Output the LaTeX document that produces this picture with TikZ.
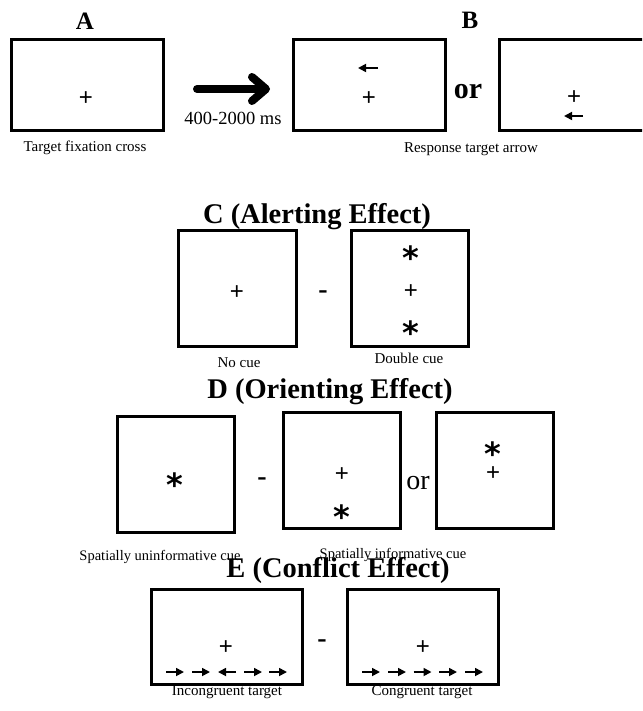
\documentclass[tikz,border=0pt]{standalone}
\usepackage{fontspec}
\setmainfont{Liberation Serif}
\newfontfamily\symfont{Liberation Sans}
\newfontfamily\starfont{DejaVu Sans}
\usetikzlibrary{arrows.meta}

\newcommand{\cuemark}{\raisebox{-16pt}[6pt][6pt]{*}}

\tikzset{
  screen/.style={draw, line width=3pt, inner sep=0pt},
  widescreen/.style={screen, minimum width=152pt, minimum height=91pt},
  flatscreen/.style={screen, minimum width=151pt, minimum height=95pt},
  squarescreen/.style={screen, minimum width=117pt, minimum height=116pt},
  fixcross/.style={font=\symfont\fontsize{24}{24}\selectfont, inner sep=0pt},
  cuestar/.style={font=\starfont\bfseries\fontsize{32}{32}\selectfont, inner sep=0pt},
  panel/.style={font=\bfseries\fontsize{28.5}{30}\selectfont, inner sep=0pt},
  letter/.style={font=\bfseries\fontsize{25}{26}\selectfont, inner sep=0pt},
  caption/.style={font=\fontsize{15}{16}\selectfont, inner sep=0pt},
  minus/.style={font=\bfseries\fontsize{28}{28}\selectfont, inner sep=0pt},
  target/.style={line width=1.7pt, -{Triangle[length=8pt,width=8pt]}},
}

\begin{document}
\begin{tikzpicture}[x=1pt,y=-1pt]
\useasboundingbox (0,0) rectangle (642,711);
\clip (0,0) rectangle (642,711);

% A and B: fixation, then response target
\node [letter] (lblA) at (85,21) {A};
\node [letter] (lblB) at (470,20) {B};
\node [widescreen] (fixA) at (87,85.5) {};
\node [fixcross] (crossA) at (86,99) {+};
\node [caption] (capA) at (85,148) {Target fixation cross};

\coordinate (delayS) at (197,89);
\coordinate (delayE) at (270,89);
\draw [line width=8pt, line cap=round, -{Straight Barb[length=14pt,width=24pt,round]}] (delayS) -- (delayE);
\node [font=\fontsize{18.5}{20}\selectfont, inner sep=0pt] (delay) at (233,118) {400-2000 ms};

\node [widescreen] (upB) at (369,85.5) {};
\node [fixcross] (crossB1) at (369,99) {+};
\draw [target] (378,68) -- (358,68);
\node [font=\bfseries\fontsize{30}{30}\selectfont, inner sep=0pt] (orB) at (468,92) {or};
\node [widescreen] (downB) at (575,85.5) {};
\node [fixcross] (crossB2) at (574,98) {+};
\draw [target] (583,116) -- (564,116);
\node [caption] (capB) at (471,149) {Response target arrow};

% C: alerting
\node [panel] (lblC) at (317,217) {C (Alerting Effect)};
\node [squarescreen, minimum width=118pt] (nocue) at (237,288) {};
\node [fixcross] (crossC1) at (237,293) {+};
\node [minus] (minusC) at (323,295) {-};
\node [squarescreen] (dblcue) at (409.5,288) {};
\node [cuestar] (starC1) at (411,253) {\cuemark};
\node [fixcross] (crossC2) at (411,292) {+};
\node [cuestar] (starC2) at (411,328) {\cuemark};
\node [caption] (capC1) at (239,363) {No cue};
\node [caption] (capC2) at (409,358) {Double cue};

% D: orienting
\node [panel] (lblD) at (330,392) {D (Orienting Effect)};
\node [squarescreen] (centercue) at (175.5,474) {};
\node [cuestar] (starD1) at (175,480) {\cuemark};
\node [minus] (minusD) at (262,482) {-};
\node [squarescreen] (lowcue) at (341.5,470) {};
\node [fixcross] (crossD2) at (342,475) {+};
\node [cuestar] (starD2) at (342,512) {\cuemark};
\node [font=\fontsize{28}{28}\selectfont, inner sep=0pt] (orD) at (418,483) {or};
\node [squarescreen] (highcue) at (495,470) {};
\node [cuestar] (starD3) at (493,449) {\cuemark};
\node [fixcross] (crossD3) at (493,474) {+};
\node [caption, font=\fontsize{14.5}{16}\selectfont] (capD1) at (160,557) {Spatially uninformative cue};
\node [caption, font=\fontsize{14.5}{16}\selectfont] (capD2) at (393,555) {Spatially informative cue};

% E: conflict
\node [panel] (lblE) at (338,570) {E (Conflict Effect)};
\node [flatscreen] (incong) at (226.5,636.5) {};
\node [fixcross] (crossE1) at (226,648) {+};
\foreach \x in {175,201,253,278}
    \draw [target] (\x-9,672) -- (\x+9,672);
\draw [target] (236,672) -- (218,672);
\node [minus] (minusE) at (322,644) {-};
\node [flatscreen] (cong) at (422.5,636.5) {};
\node [fixcross] (crossE2) at (423,648) {+};
\foreach \x in {371,397,422.5,448,474}
    \draw [target] (\x-9,672) -- (\x+9,672);
\node [caption] (capE1) at (227,692) {Incongruent target};
\node [caption] (capE2) at (422,692) {Congruent target};
\end{tikzpicture}
\end{document}
